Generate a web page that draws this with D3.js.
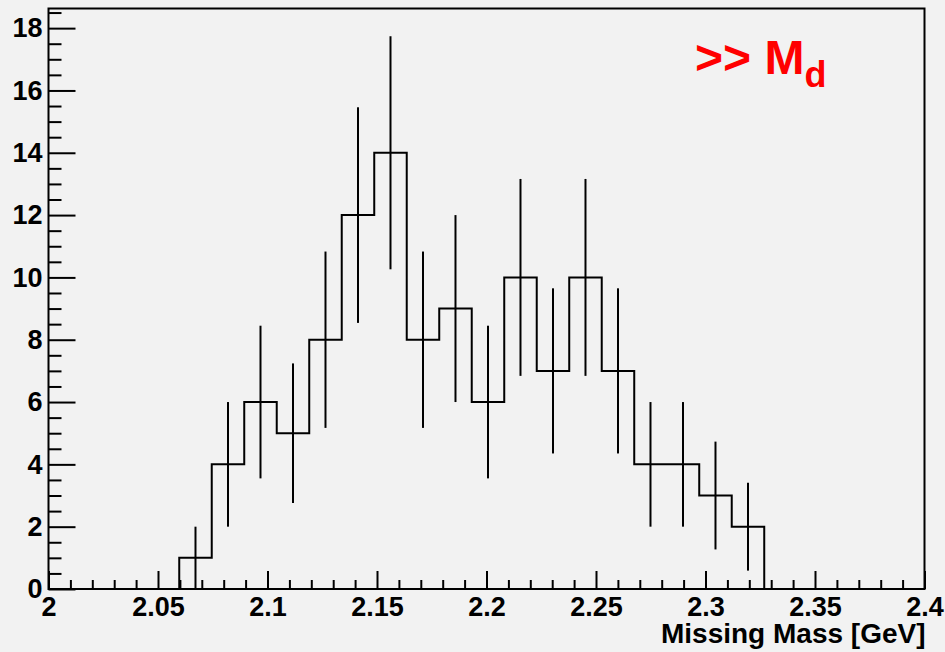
<!DOCTYPE html>
<html lang="en">
    <head>
        <meta charset="utf-8">
        <title>Missing Mass</title>
        <script type="text/javascript" src="https://cdn.jsdelivr.net/npm/d3@7"></script>
        <style>
            html, body { margin: 0; padding: 0; background: #f2f2f2; }
            svg text { font-family: "Liberation Sans", Arial, Helvetica, sans-serif; font-weight: bold; }
        </style>
    </head>
    <body>
        <div id="chart"></div>
        <script type="text/javascript">
            // histogram contents
            var binLowEdge = 2.0597;
            var binWidth = 0.01484;
            var counts = [1, 4, 6, 5, 8, 12, 14, 8, 9, 6, 10, 7, 10, 7, 4, 4, 3, 2];
            var errors = [1, 2, 2.45, 2.24, 2.83, 3.46, 3.74, 2.83, 3, 2.45, 3.16, 2.65, 3.16, 2.65, 2, 2, 1.73, 1.41];
            // axis ticks
            var xMajorTicks = [2, 2.05, 2.1, 2.15, 2.2, 2.25, 2.3, 2.35, 2.4];
            var yMajorTicks = [0, 2, 4, 6, 8, 10, 12, 14, 16, 18];
            var yMax = 18.63;
            var xTitle = "Missing Mass [GeV]";

            var w = 945;
            var h = 652;
            // frame edges (top is a reserved window name, so prefix them)
            var fLeft = 48.5, fRight = 924.5, fTop = 8.5, fBottom = 589;

            var svg = d3.select("#chart")
                        .append("svg")
                        .attr("width", w)
                        .attr("height", h);

            svg.append("rect")
               .attr("width", w)
               .attr("height", h)
               .attr("fill", "#f2f2f2");

            var xScale = d3.scaleLinear()
                           .domain([2, 2.4])
                           .range([fLeft, fRight]);
            var yScale = d3.scaleLinear()
                           .domain([0, yMax])
                           .range([fBottom, fTop]);

            // minor ticks
            var xMinor = d3.range(2, 2.4001, 0.01).filter(function(v) {
                return Math.abs(v * 20 - Math.round(v * 20)) > 1e-6;
            });
            var yMinor = d3.range(0, yMax, 0.5).filter(function(v) { return v % 2 !== 0; });

            svg.append("g")
               .attr("class", "axis")
               .attr("transform", "translate(0," + fBottom + ")")
               .call(d3.axisBottom(xScale).tickValues(xMinor).tickSize(-9).tickFormat(""));
            svg.append("g")
               .attr("class", "axis xmajor")
               .attr("transform", "translate(0," + fBottom + ")")
               .call(d3.axisBottom(xScale)
                       .tickValues(xMajorTicks)
                       .tickSize(-18)
                       .tickPadding(8)
                       .tickFormat(function(d) { return +d.toFixed(2) + ""; }));
            svg.append("g")
               .attr("class", "axis")
               .attr("transform", "translate(" + fLeft + ",0)")
               .call(d3.axisLeft(yScale).tickValues(yMinor).tickSize(-13).tickFormat(""));
            svg.append("g")
               .attr("class", "axis ymajor")
               .attr("transform", "translate(" + fLeft + ",0)")
               .call(d3.axisLeft(yScale)
                       .tickValues(yMajorTicks)
                       .tickSize(-27)
                       .tickPadding(6)
                       .tickFormat(d3.format("d")));

            svg.selectAll(".axis .domain").remove();
            svg.selectAll(".axis line").attr("stroke", "#000").attr("stroke-width", 2);
            svg.selectAll(".axis text").attr("fill", "#000").style("font-size", "27px");

            // frame
            svg.append("rect")
               .attr("x", fLeft)
               .attr("y", fTop)
               .attr("width", fRight - fLeft)
               .attr("height", fBottom - fTop)
               .attr("fill", "none")
               .attr("stroke", "#000")
               .attr("stroke-width", 2);

            // histogram outline
            var pts = [[binLowEdge, 0]];
            counts.forEach(function(c, i) {
                pts.push([binLowEdge + i * binWidth, c]);
                pts.push([binLowEdge + (i + 1) * binWidth, c]);
            });
            pts.push([binLowEdge + counts.length * binWidth, 0]);

            var line = d3.line()
                         .x(function(d) { return xScale(d[0]); })
                         .y(function(d) { return yScale(d[1]); });

            svg.append("path")
               .datum(pts)
               .attr("d", line)
               .attr("fill", "none")
               .attr("stroke", "#000")
               .attr("stroke-width", 2);

            // error bars
            svg.selectAll("line.err")
               .data(counts)
               .enter()
               .append("line")
               .attr("class", "err")
               .attr("x1", function(d, i) { return xScale(binLowEdge + (i + 0.5) * binWidth); })
               .attr("x2", function(d, i) { return xScale(binLowEdge + (i + 0.5) * binWidth); })
               .attr("y1", function(d, i) { return yScale(Math.max(0, d - errors[i])); })
               .attr("y2", function(d, i) { return yScale(d + errors[i]); })
               .attr("stroke", "#000")
               .attr("stroke-width", 2);

            // axis title
            svg.append("text")
               .attr("x", fRight + 1)
               .attr("y", 643)
               .attr("text-anchor", "end")
               .style("font-size", "28px")
               .attr("fill", "#000")
               .text(xTitle);

            // label
            var lbl = svg.append("text")
                         .attr("x", 695)
                         .attr("y", 74)
                         .attr("fill", "#ff0000")
                         .style("font-size", "48px");
            lbl.append("tspan").text(">> M");
            lbl.append("tspan")
               .attr("dy", 13)
               .style("font-size", "36px")
               .text("d");
        </script>
    </body>
</html>
